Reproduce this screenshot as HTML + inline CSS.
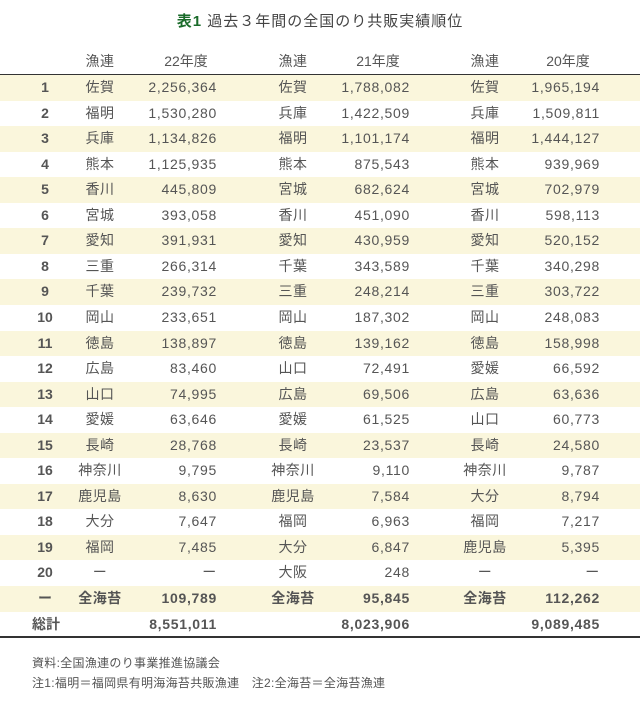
<!DOCTYPE html><html><head><meta charset="utf-8"><style>
body{margin:0;width:640px;height:705px;background:#fff;font-family:"Liberation Sans","Noto Sans CJK JP",sans-serif;color:#555;position:relative;overflow:hidden}
.t{position:absolute;top:10px;left:0;width:640px;text-align:center;font-size:15px;color:#444;letter-spacing:1px}
.t b{color:#1a6b2a}
.r{position:absolute;left:0;width:640px;height:25.55px;font-size:14px}
.r span{position:absolute;top:0;line-height:25.55px;white-space:nowrap}
.y{background:#faf6dc}
.k{font-weight:bold;width:30px;left:30px;text-align:center}
.a{width:60px;text-align:center;letter-spacing:0.5px}
.n{text-align:right;width:120px;letter-spacing:0.7px}
.line{position:absolute;left:0;width:640px;height:2px;background:#333}
.f{position:absolute;left:32px;font-size:12px;color:#555;letter-spacing:0.3px}
</style></head><body>
<div class="t"><b>表1</b> 過去３年間の全国のり共販実績順位</div>
<div class="r" style="top:49px"><span class="a" style="left:70px">漁連</span><span style="left:150px;width:72px;text-align:center">22年度</span><span class="a" style="left:263px">漁連</span><span style="left:342px;width:72px;text-align:center">21年度</span><span class="a" style="left:455px">漁連</span><span style="left:532px;width:72px;text-align:center">20年度</span></div>
<div class="line" style="top:74px"></div>
<div id="rows"></div>
<div class="line" style="top:636px"></div>
<div class="f" style="top:654px">資料:全国漁連のり事業推進協議会</div>
<div class="f" style="top:674px">注1:福明＝福岡県有明海海苔共販漁連　注2:全海苔＝全海苔漁連</div>
<script>
var d=[["1","佐賀","2,256,364","佐賀","1,788,082","佐賀","1,965,194"],
["2","福明","1,530,280","兵庫","1,422,509","兵庫","1,509,811"],
["3","兵庫","1,134,826","福明","1,101,174","福明","1,444,127"],
["4","熊本","1,125,935","熊本","875,543","熊本","939,969"],
["5","香川","445,809","宮城","682,624","宮城","702,979"],
["6","宮城","393,058","香川","451,090","香川","598,113"],
["7","愛知","391,931","愛知","430,959","愛知","520,152"],
["8","三重","266,314","千葉","343,589","千葉","340,298"],
["9","千葉","239,732","三重","248,214","三重","303,722"],
["10","岡山","233,651","岡山","187,302","岡山","248,083"],
["11","徳島","138,897","徳島","139,162","徳島","158,998"],
["12","広島","83,460","山口","72,491","愛媛","66,592"],
["13","山口","74,995","広島","69,506","広島","63,636"],
["14","愛媛","63,646","愛媛","61,525","山口","60,773"],
["15","長崎","28,768","長崎","23,537","長崎","24,580"],
["16","神奈川","9,795","神奈川","9,110","神奈川","9,787"],
["17","鹿児島","8,630","鹿児島","7,584","大分","8,794"],
["18","大分","7,647","福岡","6,963","福岡","7,217"],
["19","福岡","7,485","大分","6,847","鹿児島","5,395"],
["20","ー","ー","大阪","248","ー","ー"],
["ー","全海苔","109,789","全海苔","95,845","全海苔","112,262"],
["総計","","8,551,011","","8,023,906","","9,089,485"]];
var h="";d.forEach(function(r,i){var top=75+i*25.55;var b=i>=20?"font-weight:bold;":"";
h+='<div class="r'+(i%2==0&&i<21?' y':'')+'" style="top:'+top+'px;'+b+'">';
if(i==21)h+='<span style="left:32px;font-weight:bold">総計</span>';else h+='<span class="k">'+r[0]+'</span>';
h+='<span class="a" style="left:70px">'+r[1]+'</span><span class="n" style="left:97px">'+r[2]+'</span>';
h+='<span class="a" style="left:263px">'+r[3]+'</span><span class="n" style="left:290px">'+r[4]+'</span>';
h+='<span class="a" style="left:455px">'+r[5]+'</span><span class="n" style="left:480px">'+r[6]+'</span></div>';});
document.getElementById("rows").innerHTML=h;
</script>
</body></html>
